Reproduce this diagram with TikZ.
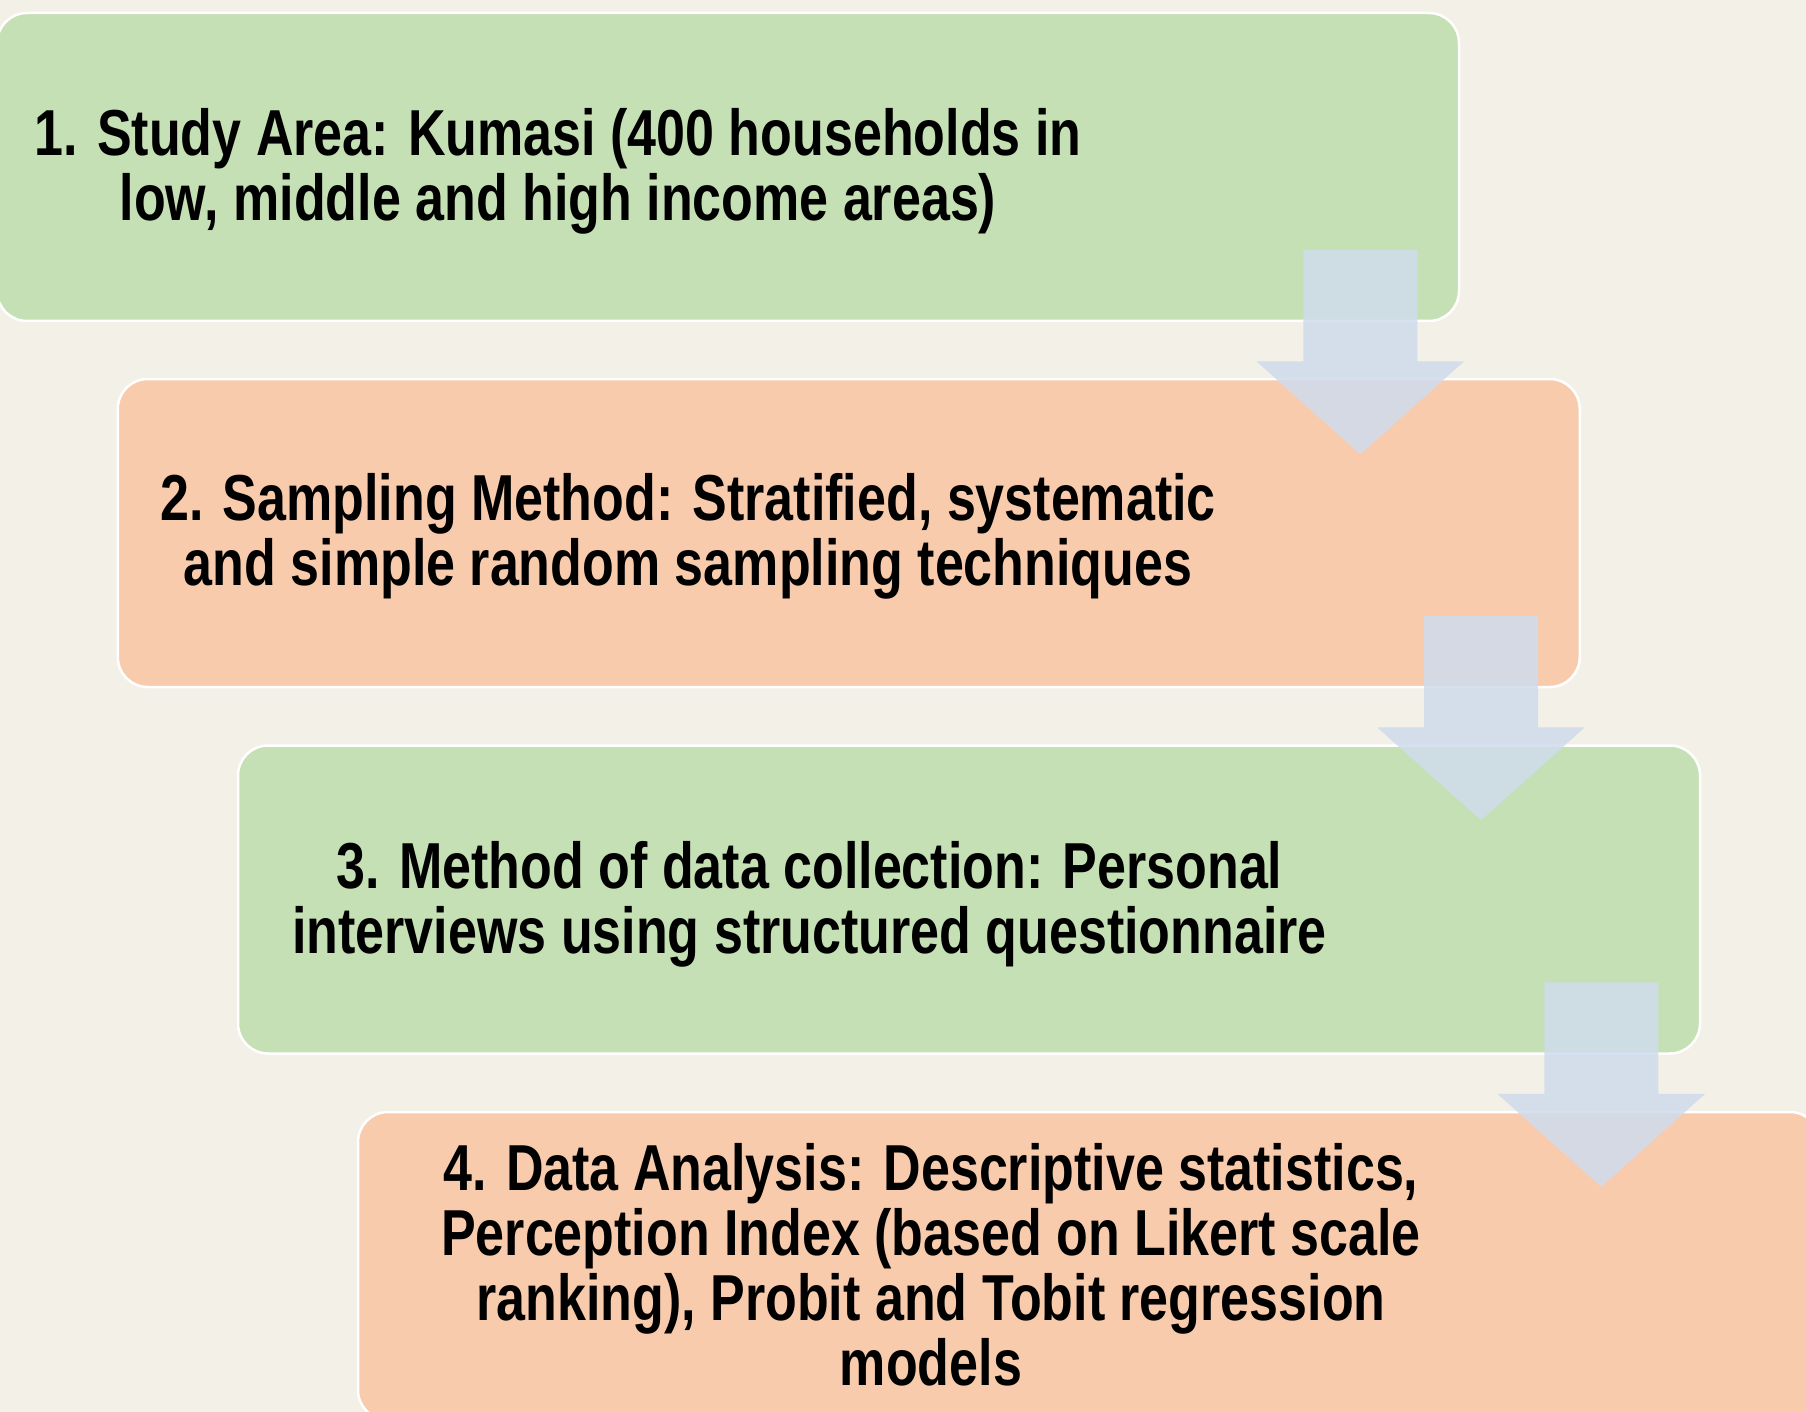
\documentclass[tikz,border=0pt]{standalone}
\usepackage{fontspec}
\usetikzlibrary{calc}
\newfontfamily\stepfont{Liberation Sans}[FakeStretch=0.80]
\definecolor{pagebg}{HTML}{F3F0E8}
\definecolor{stepgreen}{HTML}{C5E0B4}
\definecolor{steporange}{HTML}{F8CBAD}
\definecolor{flowblue}{HTML}{D0DCEC}
\tikzset{
  stepbox/.style={draw=white, line width=2.5pt, rounded corners=30pt,
    minimum width=1462pt, minimum height=308pt, inner sep=0pt},
  steptext/.style={align=center, inner sep=0pt, text=black,
    font=\stepfont\bfseries\fontsize{65}{65}\selectfont},
  flowarrow/.pic={
    \fill[flowblue, fill opacity=0.87]
      (-57,0) -- (57,0) -- (57,111.3) -- (104,111.3) -- (0,204.3)
      -- (-104,111.3) -- (-57,111.3) -- cycle;
  }
}
\begin{document}
\begin{tikzpicture}[x=1pt, y=-1pt]
  \useasboundingbox (0,0) rectangle (1806,1412);
  \fill[pagebg] (0,0) rectangle (1806,1412);

  % the four steps
  \node[stepbox, fill=stepgreen]  (b1) at (728,167)    {};
  \node[stepbox, fill=steporange] (b2) at (848.75,533) {};
  \node[stepbox, fill=stepgreen]  (b3) at (969,899.5)  {};
  \node[stepbox, fill=steporange] (b4) at (1089,1266)  {};

  \node[steptext] (t1) at (558,171)
    {1. Study Area: Kumasi (400 households in\\
     low, middle and high income areas)};
  \node[steptext] (t2) at (688,536)
    {2. Sampling Method: Stratified, systematic\\
     and simple random sampling techniques};
  \node[steptext] (t3) at (809.5,904)
    {3. Method of data collection: Personal\\
     interviews using structured questionnaire};
  \node[steptext] (t4) at (931,1264.5)
    {4. Data Analysis: Descriptive statistics,\\
     Perception Index (based on Likert scale\\
     ranking), Probit and Tobit regression\\
     models};

  % block arrows linking consecutive steps
  \pic at ($(b1.south east)+(-100,-72.3)$) {flowarrow};
  \pic at ($(b2.south east)+(-100,-72.3)$) {flowarrow};
  \pic at ($(b3.south east)+(-100,-72.3)$) {flowarrow};
\end{tikzpicture}
\end{document}
